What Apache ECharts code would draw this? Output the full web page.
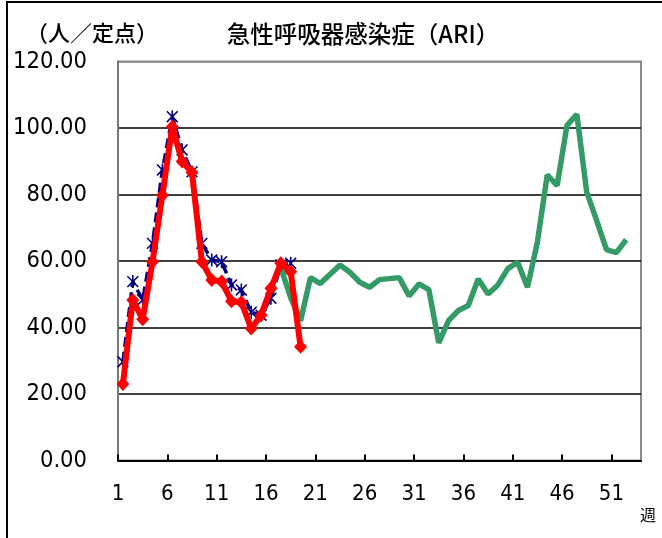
<!DOCTYPE html>
<html>
<head>
<meta charset="utf-8">
<script src="https://cdn.jsdelivr.net/npm/echarts@6/dist/echarts.min.js"></script>
<style>
html,body{margin:0;padding:0;background:#fff;}
#chart{width:662px;height:538px;}
</style>
</head>
<body>
<div id="chart"></div>
<script>
// week numbers (categories)
const weeks = [1,2,3,4,5,6,7,8,9,10,11,12,13,14,15,16,17,18,19,20,21,22,23,24,25,26,27,28,29,30,31,32,33,34,35,36,37,38,39,40,41,42,43,44,45,46,47,48,49,50,51,52,53];
// x tick labels
const weekTickLabels = [1,6,11,16,21,26,31,36,41,46,51];
// y tick labels range
const yMin = 0, yMax = 120, yStep = 20;

// green: previous season (weeks 17-52)
const greenStartWeek = 17;
const greenValues = [58,49,42,55,53.2,56,58.8,56.6,53.6,52.1,54.4,54.7,55,49.5,53.1,51.4,35.4,42.1,45.1,46.6,54.6,50.1,52.8,57.7,59.6,52.1,65.7,85.9,82.7,100.8,104.1,80.7,72.2,63.4,62.5,66.4];
// blue dashed: weeks 1-18
const blueStartWeek = 1;
const blueValues = [29.7,53.8,48.3,65.3,87.4,103.4,93.4,86.8,65.3,60.3,59.8,52.8,51.3,44.6,43.7,48.8,58.8,59.3];
// red: weeks 1-19
const redStartWeek = 1;
const redValues = [23,48.3,42.5,59.8,79.8,100.4,89.9,86.6,59.8,54.3,53.8,47.9,47.6,39.7,43.7,51.8,59.3,56.8,34.2];

const title = '急性呼吸器感染症（ARI）';
const unitLabel = '（人／定点）';
const xUnit = '週';

function toPairs(values, startWeek){
  return values.map((v,i)=>[weeks[startWeek - 1 + i] - 0.5, v]);
}

const chart = echarts.init(document.getElementById('chart'), null, {renderer:'canvas'});
const numFont = '"DejaVu Sans Condensed", "DejaVu Sans"';
const cjkFont = '"Noto Sans CJK JP", sans-serif';

chart.setOption({
  animation:false,
  backgroundColor:'#fff',
  grid:{left:118, right:21, top:61.5, bottom:77.5, containLabel:false, outerBoundsMode:'none',
    show:true, borderColor:'#8a8a8a', borderWidth:2, backgroundColor:'transparent'},
  xAxis:{
    type:'value', min:0, max:weeks.length,
    interval:5,
    axisLine:{show:true, onZero:false, lineStyle:{color:'#000', width:2}},
    axisTick:{show:true, inside:true, length:6, lineStyle:{color:'#000', width:2},
      customValues: weekTickLabels.map(w=>w-1)},
    axisLabel:{show:true, margin:23, color:'#000', fontFamily:numFont, fontSize:22,
      customValues: weekTickLabels.map(w=>w-1),
      formatter:(v)=>String(Math.round(v)+1)},
    splitLine:{show:false}
  },
  yAxis:{
    type:'value', min:yMin, max:yMax, interval:yStep,
    axisLine:{show:true, lineStyle:{color:'#777', width:2}},
    axisTick:{show:false},
    axisLabel:{margin:31, color:'#000', fontFamily:numFont, fontSize:23.5,
      formatter:(v)=>v.toFixed(2)},
    splitLine:{show:true, lineStyle:{color:['#000','#000','#000','#000','#000','#000','#8a8a8a'], width:1.6}}
  },
  graphic:[
    {type:'rect', shape:{x:7, y:2, width:720, height:620}, style:{fill:'none', stroke:'#000', lineWidth:2}, silent:true},
    {type:'text', x:363, y:34, style:{text:title, font:'500 23.5px '+cjkFont, fill:'#000', textAlign:'center', textVerticalAlign:'middle'}},
    {type:'text', x:26, y:33, style:{text:unitLabel, font:'500 22px '+cjkFont, fill:'#000', textAlign:'left', textVerticalAlign:'middle'}},
    {type:'text', x:648, y:515, style:{text:xUnit, font:'16px '+cjkFont, fill:'#000', textAlign:'center', textVerticalAlign:'middle'}}
  ],
  series:[
    {type:'line', name:'green', data:toPairs(greenValues, greenStartWeek), z:2,
      symbol:'none', lineStyle:{color:'#349a66', width:5.5}, itemStyle:{color:'#349a66'}},
    {type:'line', name:'blue', data:toPairs(blueValues, blueStartWeek), z:3,
      symbol:'path://M0,0L10,10M0,10L10,0M5,-1L5,11', symbolSize:13, symbolKeepAspect:true,
      showAllSymbol:true,
      lineStyle:{color:'#000080', width:3.5, type:[10,5]},
      itemStyle:{color:'#000080', borderColor:'#000080', borderWidth:1.6}},
    {type:'line', name:'red', data:toPairs(redValues, redStartWeek), z:4,
      symbol:'diamond', symbolSize:[13,14], showAllSymbol:true,
      lineStyle:{color:'#ff0000', width:6}, itemStyle:{color:'#ff0000', borderWidth:0}}
  ]
});
</script>
</body>
</html>
